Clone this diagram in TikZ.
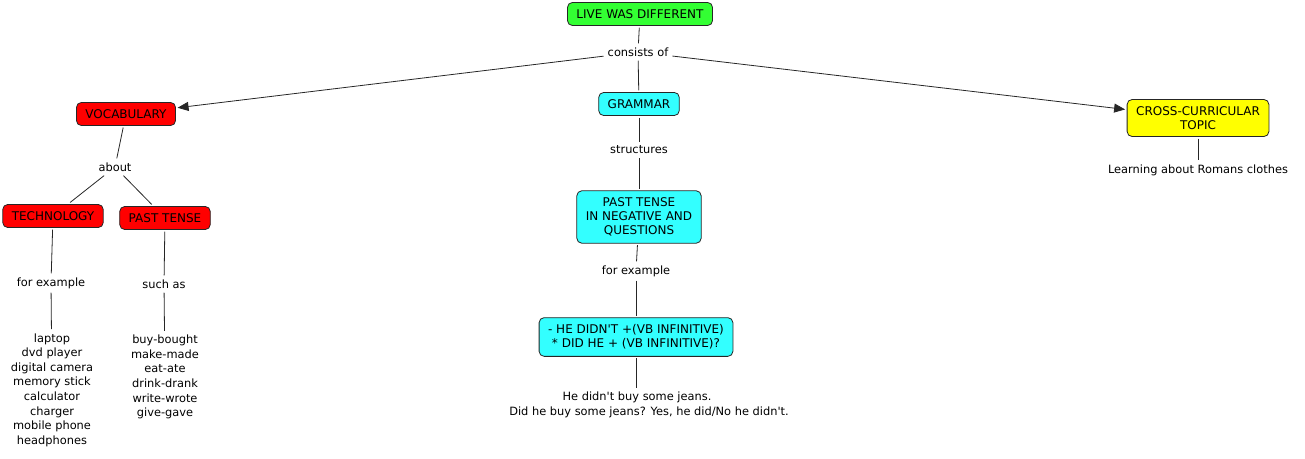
\documentclass[tikz,border=0pt]{standalone}
\usepackage{fontspec}
\setmainfont{DejaVu Sans}
\usetikzlibrary{arrows.meta}
\definecolor{bgreen}{RGB}{51,255,51}
\definecolor{bred}{RGB}{255,0,0}
\definecolor{bcyan}{RGB}{51,255,255}
\definecolor{byellow}{RGB}{255,255,0}
\newcommand{\apo}{\textquotesingle}
\tikzset{
  box/.style={draw=black!85, rounded corners=5pt, line width=0.8pt, align=center, inner xsep=9pt, inner ysep=7pt, outer sep=2pt, font=\fontsize{12}{14}\selectfont},
  lbl/.style={align=center, inner sep=4pt, font=\fontsize{11.4}{14.6}\selectfont},
  conn/.style={line width=0.8pt, black!85},
  arr/.style={conn, -{Triangle[length=11pt,width=9pt]}}
}
\begin{document}
\begin{tikzpicture}[x=1pt,y=-1pt]
\useasboundingbox (0,0) rectangle (1305,458);
\node[box, fill=bgreen] (live) at (640,14) {LIVE WAS DIFFERENT};
\node[lbl] (cons) at (638,52) {consists of};
\node[box, fill=bred] (voc) at (126,114) {VOCABULARY};
\node[box, fill=bcyan] (gram) at (639,104) {GRAMMAR};
\node[box, fill=byellow] (cross) at (1198,118) {CROSS-CURRICULAR\\TOPIC};
\node[lbl] (learn) at (1198,170) {Learning about Romans clothes};
\node[lbl] (about) at (115,167) {about};
\node[box, fill=bred] (tech) at (53,216) {TECHNOLOGY};
\node[box, fill=bred] (past) at (165,218) {PAST TENSE};
\node[lbl] (fex1) at (51,283) {for example};
\node[lbl] (such) at (164,284) {such as};
\node[lbl] (list1) at (52,390) {laptop\\dvd player\\digital camera\\memory stick\\calculator\\charger\\mobile phone\\headphones};
\node[lbl] (list2) at (165,377) {buy-bought\\make-made\\eat-ate\\drink-drank\\write-wrote\\give-gave};
\node[lbl] (struct) at (639,150) {structures};
\node[box, fill=bcyan] (ptn) at (639,217) {PAST TENSE\\IN NEGATIVE AND\\QUESTIONS};
\node[lbl] (fex2) at (636,271) {for example};
\node[box, fill=bcyan] (he) at (636,337) {- HE DIDN\apo T +(VB INFINITIVE)\\* DID HE + (VB INFINITIVE)?};
\node[lbl] (jeans) at (649,405) {He didn\apo t buy some jeans.\hspace*{24pt}\\Did he buy some jeans? Yes, he did/No he didn\apo t.};

\draw[conn] (live) -- (cons);
\draw[arr] (cons) -- (voc);
\draw[conn] (cons) -- (gram);
\draw[arr] (cons) -- (cross);
\draw[conn] (cross) -- (learn);
\draw[conn] (voc) -- (about);
\draw[conn] (about) -- (tech);
\draw[conn] (about) -- (past);
\draw[conn] (tech) -- (fex1);
\draw[conn] (fex1) -- (list1);
\draw[conn] (past) -- (such);
\draw[conn] (such) -- (list2);
\draw[conn] (gram) -- (struct);
\draw[conn] (struct) -- (ptn);
\draw[conn] (ptn) -- (fex2);
\draw[conn] (fex2) -- (he);
\draw[conn] (he.south -| 636,0) -- (jeans.north -| 636,0);
\end{tikzpicture}
\end{document}
